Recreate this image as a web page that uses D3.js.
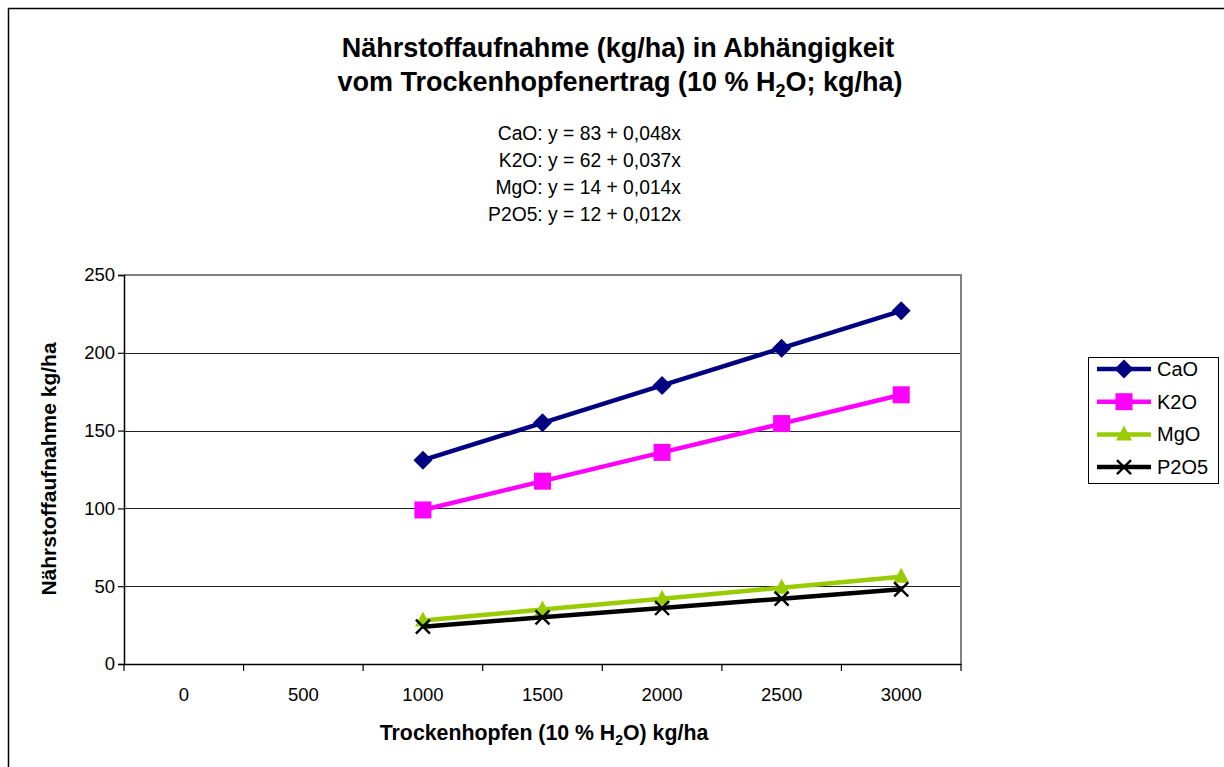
<!DOCTYPE html>
<html><head><meta charset="utf-8">
<script src="https://cdn.jsdelivr.net/npm/d3@7"></script>
<style>
body{margin:0;background:#fff;}
text{font-family:"Liberation Sans",Arial,sans-serif;}
</style></head><body>
<svg id="c" width="1224" height="767"></svg>
<script>
const categories = ["0","500","1000","1500","2000","2500","3000"];
const yTicks = [0,50,100,150,200,250];
const CaO  = [null,null,131,155,179,203,227];
const K2O  = [null,null,99,117.5,136,154.5,173];
const MgO  = [null,null,28,35,42,49,56];
const P2O5 = [null,null,24,30,36,42,48];
const equations = ["CaO: y = 83 + 0,048x","K2O: y = 62 + 0,037x","MgO: y = 14 + 0,014x","P2O5: y = 12 + 0,012x"];
const series = [
  {name:"CaO", values:CaO, color:"#000080", marker:"diamond"},
  {name:"K2O", values:K2O, color:"#FF00FF", marker:"square"},
  {name:"MgO", values:MgO, color:"#99CC00", marker:"triangle"},
  {name:"P2O5", values:P2O5, color:"#000000", marker:"cross"}
];

const svg = d3.select("#c");
const L=124, R=961, T=275, B=664;
const x = d3.scaleBand().domain(categories).range([L,R]).padding(0);
const y = d3.scaleLinear().domain([0,250]).range([B,T]);

// outer border
svg.append("rect").attr("x",8.5).attr("y",8.5).attr("width",1240).attr("height",800)
  .attr("fill","none").attr("stroke","#000").attr("stroke-width",1.5);

// title
const title = svg.append("text").attr("text-anchor","middle").attr("font-weight","bold").attr("font-size",27);
title.append("tspan").attr("x",618).attr("y",57).text("Nährstoffaufnahme (kg/ha) in Abhängigkeit");
const t2 = title.append("tspan").attr("x",620).attr("y",91);
t2.append("tspan").text("vom Trockenhopfenertrag (10 % H");
t2.append("tspan").attr("font-size",18).attr("dy",6).text("2");
t2.append("tspan").attr("dy",-6).text("O; kg/ha)");

// equations
svg.append("g").selectAll("text").data(equations).join("text")
  .attr("x",681).attr("y",(d,i)=>140+i*27).attr("text-anchor","end")
  .attr("font-size",19.3).text(d=>d);

// gridlines
svg.append("g").selectAll("line").data(yTicks.filter(v=>v>0 && v<250)).join("line")
  .attr("x1",L).attr("x2",R).attr("y1",d=>Math.round(y(d))+0.5).attr("y2",d=>Math.round(y(d))+0.5)
  .attr("stroke","#222").attr("stroke-width",1);

// plot border (top/right gray)
svg.append("path").attr("d",`M${L},${y(250)}H${R}V${B}`).attr("fill","none")
  .attr("stroke","#808080").attr("stroke-width",2);

// y axis
const ya = svg.append("g").attr("transform",`translate(${L},0)`)
  .call(d3.axisLeft(y).tickValues(yTicks).tickSize(6).tickPadding(3).tickFormat(d3.format("d")));
ya.select(".domain").attr("stroke","#000").attr("stroke-width",1.5);
ya.selectAll(".tick line").attr("stroke","#000").attr("stroke-width",1.2);
ya.selectAll("text").attr("font-size",18.5).attr("font-family","Liberation Sans, Arial, sans-serif").attr("fill","#000");

// x axis
const xa = svg.append("g").attr("transform",`translate(0,${B})`)
  .call(d3.axisBottom(x).tickSize(0).tickPadding(24));
xa.select(".domain").attr("stroke","#000").attr("stroke-width",1.5);
xa.selectAll("text").attr("font-size",18.5).attr("font-family","Liberation Sans, Arial, sans-serif").attr("fill","#000");
const bounds = categories.map(c=>x(c)).concat([x(categories[categories.length-1])+x.bandwidth()]);
svg.append("g").selectAll("line").data(bounds).join("line")
  .attr("x1",d=>d).attr("x2",d=>d).attr("y1",B).attr("y2",B+7)
  .attr("stroke","#000").attr("stroke-width",1.2);

// axis titles
const xt = svg.append("text").attr("x",544).attr("y",740).attr("text-anchor","middle")
  .attr("font-weight","bold").attr("font-size",21.3);
xt.append("tspan").text("Trockenhopfen (10 % H");
xt.append("tspan").attr("font-size",14).attr("dy",5).text("2");
xt.append("tspan").attr("dy",-5).text("O) kg/ha");
svg.append("text").attr("transform","translate(56,469) rotate(-90)").attr("text-anchor","middle")
  .attr("font-weight","bold").attr("font-size",21).text("Nährstoffaufnahme kg/ha");

// markers
function drawMarker(g, type, cx, cy, color){
  if(type==="diamond"){
    g.append("path").attr("d",`M${cx},${cy-9.5}L${cx+9.5},${cy}L${cx},${cy+9.5}L${cx-9.5},${cy}Z`).attr("fill",color);
  } else if(type==="square"){
    g.append("rect").attr("x",cx-8.5).attr("y",cy-8.5).attr("width",17).attr("height",17).attr("fill",color);
  } else if(type==="triangle"){
    g.append("path").attr("d",`M${cx},${cy-9}L${cx+8},${cy+6}L${cx-8},${cy+6}Z`).attr("fill",color);
  } else {
    g.append("path").attr("d",`M${cx-7},${cy-7}L${cx+7},${cy+7}M${cx-7},${cy+7}L${cx+7},${cy-7}`)
      .attr("stroke",color).attr("stroke-width",2.4).attr("fill","none");
  }
}

const line = d3.line().defined(d=>d.v!=null).x(d=>x(d.c)+x.bandwidth()/2).y(d=>y(d.v));
series.forEach(s=>{
  const pts = categories.map((c,i)=>({c, v:s.values[i]}));
  svg.append("path").datum(pts).attr("d",line).attr("fill","none")
    .attr("stroke",s.color).attr("stroke-width",4.5).attr("stroke-linejoin","round");
  const g = svg.append("g");
  pts.filter(d=>d.v!=null).forEach(d=>drawMarker(g,s.marker,x(d.c)+x.bandwidth()/2,y(d.v),s.color));
});

// legend
const lg = svg.append("g");
lg.append("rect").attr("x",1088.5).attr("y",357.5).attr("width",130).attr("height",126)
  .attr("fill","#fff").attr("stroke","#000").attr("stroke-width",1);
series.forEach((s,i)=>{
  const cy = 369 + i*32.7;
  lg.append("line").attr("x1",1097).attr("x2",1151).attr("y1",cy).attr("y2",cy)
    .attr("stroke",s.color).attr("stroke-width",4.5);
  drawMarker(lg,s.marker,1124,cy,s.color);
  lg.append("text").attr("x",1157).attr("y",cy+7).attr("font-size",20).text(s.name);
});
</script>
</body></html>
